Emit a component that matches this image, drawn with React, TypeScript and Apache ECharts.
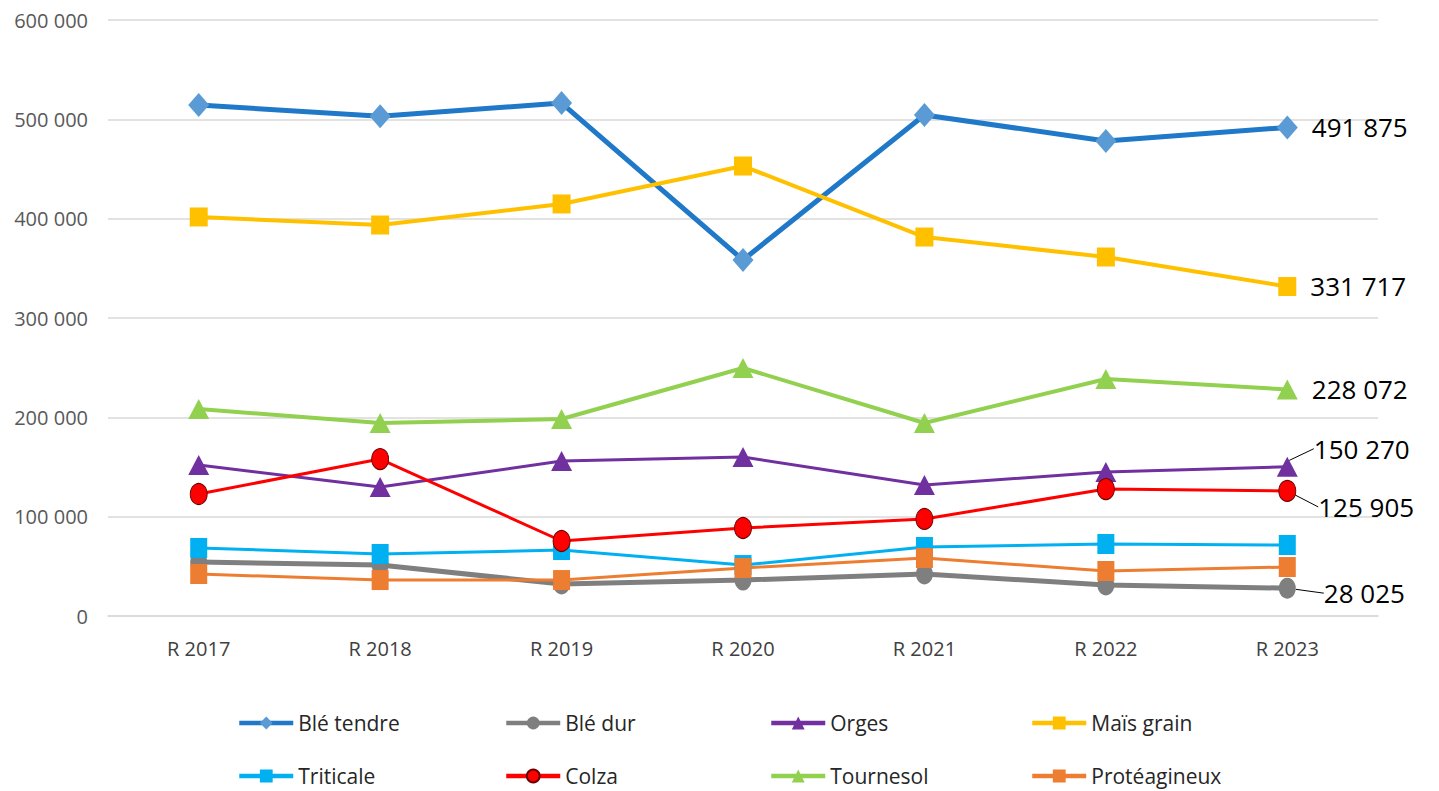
import React, { useEffect, useRef } from "react";
import * as echarts from "echarts";

const categories = ["R 2017", "R 2018", "R 2019", "R 2020", "R 2021", "R 2022", "R 2023"];
const yTicks = { min: 0, max: 600000, interval: 100000 };

const bleTendre = [514400, 503000, 516400, 358400, 504400, 478200, 491875];
const bleDur = [54400, 51300, 32200, 36200, 42300, 31200, 28025];
const orges = [152000, 129900, 156000, 160100, 131900, 145000, 150270];
const maisGrain = [401700, 393600, 414800, 453000, 381500, 361400, 331717];
const triticale = [68500, 62400, 66400, 51300, 69500, 72500, 71500];
const colza = [122800, 158000, 75500, 88600, 97700, 127800, 125905];
const tournesol = [208400, 194300, 198300, 249700, 194300, 238600, 228072];
const proteagineux = [42300, 36200, 36200, 48300, 58400, 45300, 49300];

const seriesNames = ["Blé tendre", "Blé dur", "Orges", "Maïs grain", "Triticale", "Colza", "Tournesol", "Protéagineux"];

const font = "'Open Sans', sans-serif";
const fmt = (v: number) => String(Math.round(v)).replace(/\B(?=(\d{3})+(?!\d))/g, " ");

type EndLabel = { dx: number; dy: number; guide: boolean } | null;

function mk(
  name: string,
  values: number[],
  lineColor: string,
  lineWidth: number,
  symbol: string,
  symbolSize: number[],
  markerColor: string,
  borderColor: string | null,
  endLabel: EndLabel
) {
  const data = values.map((v, i) => {
    if (endLabel && i === values.length - 1) {
      return { value: v, label: { show: true } };
    }
    return v;
  });
  const s: any = {
    name,
    type: "line",
    data,
    symbol,
    symbolSize,
    showAllSymbol: true,
    lineStyle: { color: lineColor, width: lineWidth },
    itemStyle: {
      color: markerColor,
      borderColor: borderColor || markerColor,
      borderWidth: borderColor ? 1 : 0,
    },
    label: {
      show: false,
      position: "right",
      distance: 14,
      formatter: (p: any) => fmt(p.value),
      fontSize: 26,
      fontFamily: font,
      color: "#000",
    },
    emphasis: { disabled: true },
    z: 2,
  };
  if (endLabel && endLabel.guide) {
    s.labelLayout = { dx: endLabel.dx, dy: endLabel.dy };
    s.labelLine = { show: true, lineStyle: { color: "#000", width: 1 } };
  }
  return s;
}

export default function App() {
  const ref = useRef<HTMLDivElement>(null);
  useEffect(() => {
    if (!ref.current) return;
    const chart = echarts.init(ref.current, null, { renderer: "svg" });
    const colX = [237, 504, 769, 1030];
    const rowY = [712, 765];
    const legends = seriesNames.map((n, i) => ({
      data: [n],
      left: colX[i % 4],
      top: rowY[Math.floor(i / 4)],
      itemWidth: 54,
      itemHeight: 16,
      itemGap: 0,
      padding: 0,
      selectedMode: false,
      lineStyle: { width: 4.5 },
      textStyle: { fontSize: 21, fontFamily: font, color: "#262626", lineHeight: 22 },
    }));
    chart.setOption({
      animation: false,
      backgroundColor: "#fff",
      grid: { left: 108, right: 61, top: 20, bottom: 175 },
      legend: legends,
      xAxis: {
        type: "category",
        data: categories,
        boundaryGap: true,
        axisTick: { show: false },
        axisLine: { lineStyle: { color: "#D9D9D9", width: 1.5 } },
        axisLabel: { fontSize: 20, fontFamily: font, color: "#404040", margin: 22 },
      },
      yAxis: {
        type: "value",
        min: yTicks.min,
        max: yTicks.max,
        interval: yTicks.interval,
        axisLine: { show: false },
        axisTick: { show: false },
        splitLine: { lineStyle: { color: "#D9D9D9", width: 1.5 } },
        axisLabel: {
          fontSize: 20,
          fontFamily: font,
          color: "#595959",
          margin: 20,
          formatter: (v: number) => fmt(v),
        },
      },
      series: [
        mk("Blé tendre", bleTendre, "#1F78C8", 5, "diamond", [21, 24], "#5B9BD5", null, { dx: 0, dy: 0, guide: false }),
        mk("Blé dur", bleDur, "#7F7F7F", 5, "circle", [17, 21], "#7F7F7F", null, { dx: 14, dy: 5, guide: true }),
        mk("Orges", orges, "#7030A0", 3, "triangle", [21, 20], "#7030A0", null, { dx: 2, dy: -18, guide: true }),
        mk("Maïs grain", maisGrain, "#FFC000", 4, "rect", [18, 19], "#FFC000", null, { dx: 0, dy: 0, guide: false }),
        mk("Triticale", triticale, "#00B0F0", 3, "rect", [17, 20], "#00B0F0", null, null),
        mk("Colza", colza, "#FF0000", 3, "circle", [17, 21], "#FF0000", "#6B0000", { dx: 8, dy: 16, guide: true }),
        mk("Tournesol", tournesol, "#92D050", 4, "triangle", [21, 20], "#92D050", null, { dx: 0, dy: 0, guide: false }),
        mk("Protéagineux", proteagineux, "#ED7D31", 3, "rect", [17, 20], "#ED7D31", null, null),
      ],
    });
    return () => chart.dispose();
  }, []);
  return (
    <div
      ref={ref}
      style={{ position: "fixed", left: 0, top: 0, width: 1439, height: 791, background: "#fff" }}
    />
  );
}
